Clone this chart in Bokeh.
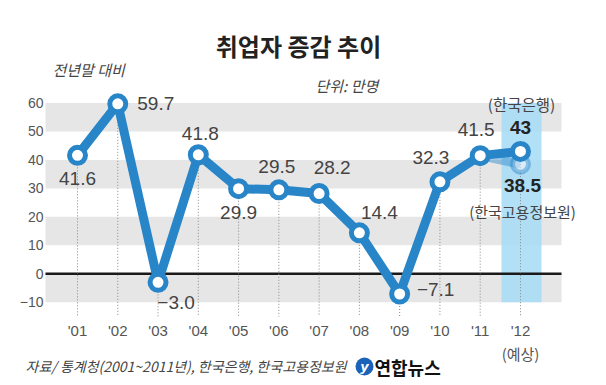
from bokeh.plotting import figure
from bokeh.models import ColumnDataSource, LabelSet, Label, Range1d, FixedTicker
from bokeh.core.properties import value
from bokeh.embed import file_html
from bokeh.resources import INLINE

# ---- data ----
years = ["'01", "'02", "'03", "'04", "'05", "'06", "'07", "'08", "'09", "'10", "'11", "'12"]
employment = [41.6, 59.7, -3.0, 41.8, 29.9, 29.5, 28.2, 14.4, -7.1, 32.3, 41.5]
forecast_bok = 43.0     # 한국은행 (2012 예상)
forecast_keis = 38.5    # 한국고용정보원 (2012 예상)
y_ticks = [-10, 0, 10, 20, 30, 40, 50, 60]
band_lo = [50, 30, 10, -10]
band_hi = [60, 40, 20, 0]

title_text = "취업자 증감 추이"
subtitle_text = "전년말 대비"
unit_text = "단위: 만명"
source_text = "자료/ 통계청(2001~2011년), 한국은행, 한국고용정보원"
logo_text = "연합뉴스"

# ---- layout / style ----
W, H = 606, 385
BLUE = "#2885c8"
NUM_FONT = "Liberation Sans"
KR_FONT = "Noto Sans CJK KR"
TXT = "#444444"

# pixel geometry of the canvas (x index 1 at px 77, 40.27 px per step; value 0 at px 273.3, 2.847 px per unit)
X0PX, XSTEP = 77.0, 40.27
Y0PX, YSTEP = 273.3, 2.847
def px2x(px):
    return 1 + (px - X0PX) / XSTEP
def px2y(py):
    return (Y0PX - py) / YSTEP

xs = list(range(1, len(years) + 1))
main_vals = employment + [forecast_bok]
drop_vals = employment + [forecast_keis]

PLOT_L, PLOT_R = px2x(45), px2x(561)
DROP_BOTTOM = px2y(316)

p = figure(width=W, height=H, x_range=Range1d(px2x(0), px2x(W)), y_range=Range1d(px2y(H), px2y(0)),
           output_backend="svg", toolbar_location=None,
           min_border=0, min_border_left=0, min_border_right=0, min_border_top=0, min_border_bottom=0)
p.background_fill_color = "white"
p.border_fill_color = "white"
p.outline_line_color = None
p.grid.visible = False

# axes (placed inside the canvas at fixed locations)
p.xaxis.fixed_location = DROP_BOTTOM
p.yaxis.fixed_location = PLOT_L
p.xaxis.ticker = FixedTicker(ticks=xs)
p.xaxis.major_label_overrides = {x: y for x, y in zip(xs, years)}
p.yaxis.ticker = FixedTicker(ticks=y_ticks)
p.yaxis.major_label_overrides = {t: (str(t).replace("-", "−")) for t in y_ticks}
for ax in (p.xaxis[0], p.yaxis[0]):
    ax.axis_line_color = None
    ax.major_tick_line_color = None
    ax.minor_tick_line_color = None
    ax.major_tick_in = 0
    ax.major_tick_out = 0
    ax.major_label_text_font = NUM_FONT
    ax.major_label_text_color = "#555555"
p.xaxis.major_label_text_font_size = "15px"
p.xaxis.major_label_standoff = 5
p.yaxis.major_label_text_font_size = "14px"
p.yaxis.major_label_standoff = 2

# background bands
p.quad(left=PLOT_L, right=PLOT_R, bottom=band_lo, top=band_hi, fill_color="#e6e6e7", line_color=None)
# forecast highlight
p.quad(left=[px2x(501)], right=[px2x(541)], bottom=[min(y_ticks)], top=[max(y_ticks)],
       fill_color="#a3daf6", fill_alpha=0.85, line_color=None)
# zero line
p.segment(x0=[PLOT_L], y0=[0], x1=[PLOT_R], y1=[0], line_color="#1a1a1a", line_width=2.5)
# dotted drop lines
p.segment(x0=xs, y0=drop_vals, x1=xs, y1=[DROP_BOTTOM] * len(xs),
          line_color="#888888", line_dash="1 2", line_width=1)

# KEIS forecast branch (lighter)
p.line([xs[-2], xs[-1]], [employment[-1], forecast_keis], line_color=BLUE, line_alpha=0.45, line_width=9)
p.scatter([xs[-1]], [forecast_keis], size=16, fill_color="white", fill_alpha=0.5,
          line_color=BLUE, line_alpha=0.45, line_width=5)
# main series
p.line(xs, main_vals, line_color=BLUE, line_width=9, line_join="round")
p.scatter(xs, main_vals, size=16, fill_color="white", line_color=BLUE, line_width=5)

# value labels
dx = [0, 38, 18, 2, 0, -2, 13, 20, 36, -9, -4]
dy = [-23, 0, -20, 21, -24, 23, 26, 20, 5, 24, 26]
lab_src = ColumnDataSource(dict(x=xs[:-1], y=employment,
                                text=[f"{v:.1f}".replace("-", "−") for v in employment],
                                dx=dx, dy=dy))
p.add_layout(LabelSet(x="x", y="y", text="text", x_offset="dx", y_offset="dy", source=lab_src,
                      text_align="center", text_baseline="middle",
                      text_font=value(NUM_FONT), text_font_size="19px", text_color=TXT))
fc_src = ColumnDataSource(dict(x=[xs[-1], xs[-1]], y=[forecast_bok, forecast_keis],
                               text=[f"{forecast_bok:g}", f"{forecast_keis:g}"],
                               dx=[0, 2], dy=[24, -21]))
p.add_layout(LabelSet(x="x", y="y", text="text", x_offset="dx", y_offset="dy", source=fc_src,
                      text_align="center", text_baseline="middle",
                      text_font=value(NUM_FONT), text_font_size="19px", text_font_style="bold",
                      text_color="#222222"))

def label(px, py, text, size, align="left", style="normal", color=TXT, font=KR_FONT, **kw):
    p.add_layout(Label(x=px2x(px), y=px2y(py), text=text, text_align=align, text_baseline="middle",
                       text_font=font, text_font_size=size, text_font_style=style,
                       text_color=color, **kw))

# forecast source labels
label(521, 103, "(한국은행)", "15.5px", align="center")
label(522, 211, "(한국고용정보원)", "15px", align="center")
label(520, 353, "(예상)", "15px", align="center", color="#555555")

# titles and notes
label(298, 45, title_text, "24px", align="center", style="bold", color="#222222")
label(52, 69, subtitle_text, "15px", style="italic")
label(315, 85, unit_text, "15px", style="italic")
label(25, 365, source_text, "14px", style="italic")

# logo
p.scatter([px2x(364)], [px2y(366)], size=18, marker="circle", fill_color="#1a63b8", line_color=None)
label(364, 366, "y", "13px", align="center", style="bold italic", color="white", font="DejaVu Sans")
label(374, 366, logo_text, "18px", style="bold", color="#111111")

open("out.html", "w").write(file_html(p, INLINE))
